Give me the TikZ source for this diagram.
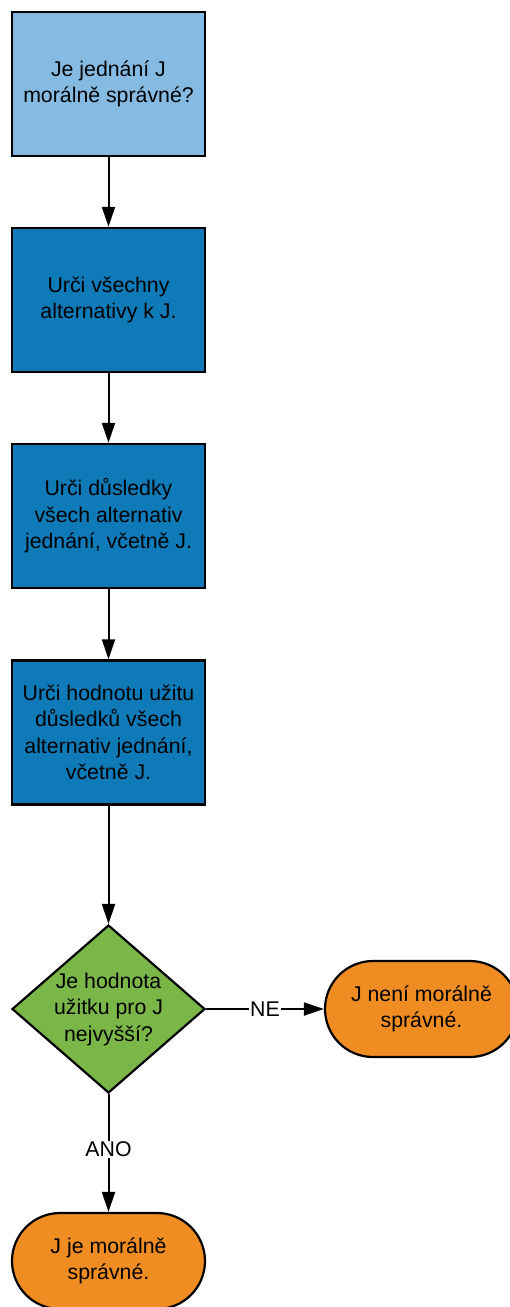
\documentclass[tikz,border=0pt]{standalone}
\usepackage{fontspec}
\setmainfont{Liberation Sans}
\usetikzlibrary{arrows.meta,shapes.geometric}
\definecolor{lightblue}{HTML}{85BBE3}
\definecolor{stepblue}{HTML}{0F7AB8}
\definecolor{decgreen}{HTML}{7AB648}
\definecolor{endorange}{HTML}{EF8D22}
\begin{document}
\begin{tikzpicture}[x=1pt,y=1pt,
  every node/.style={font=\fontsize{21.3}{26.5}\selectfont, align=center},
  stepbox/.style={rectangle, draw=black, line width=2.4pt, minimum width=193pt, minimum height=144pt, inner sep=0pt},
  decision/.style={diamond, draw=black, line width=2.2pt, fill=decgreen, minimum width=193pt, minimum height=168pt, inner sep=0pt},
  terminal/.style={rectangle, rounded corners=48pt, draw=black, line width=2.2pt, fill=endorange, minimum width=193pt, minimum height=96pt, inner sep=0pt},
  flow/.style={line width=2pt, -{Triangle[length=20pt,width=13pt]}},
  edgelabel/.style={fill=white, inner sep=1pt}
]
\useasboundingbox (0,0) rectangle (509,-1307);

\node[stepbox, fill=lightblue] (q) at (108.5,-84) {Je jednání J\\morálně správné?};
\node[stepbox, fill=stepblue] (alt) at (108.5,-300) {Urči všechny\\alternativy k J.};
\node[stepbox, fill=stepblue] (cons) at (108.5,-516) {Urči důsledky\\všech alternativ\\jednání, včetně J.};
\node[stepbox, fill=stepblue] (util) at (108.5,-732.5) {Urči hodnotu užitu\\důsledků všech\\alternativ jednání,\\včetně J.};
% decision diamond keeps its fixed size; its question is set on top of it
\node[decision] (max) at (108.5,-1009) {};
\node (maxtext) at (max.center) {Je hodnota\\užitku pro J\\nejvyšší?};
\node[terminal] (no) at (421.5,-1009) {J není morálně\\správné.};
\node[terminal] (yes) at (108.5,-1261) {J je morálně\\správné.};

\draw[flow] (q) -- (alt);
\draw[flow] (alt) -- (cons);
\draw[flow] (cons) -- (util);
\draw[flow] (util) -- (max);
\draw[flow] (max.east) -- node[edgelabel] {NE} (no.west);
\draw[flow] (max.south) -- node[edgelabel, pos=0.47] {ANO} (yes.north);
\end{tikzpicture}
\end{document}
